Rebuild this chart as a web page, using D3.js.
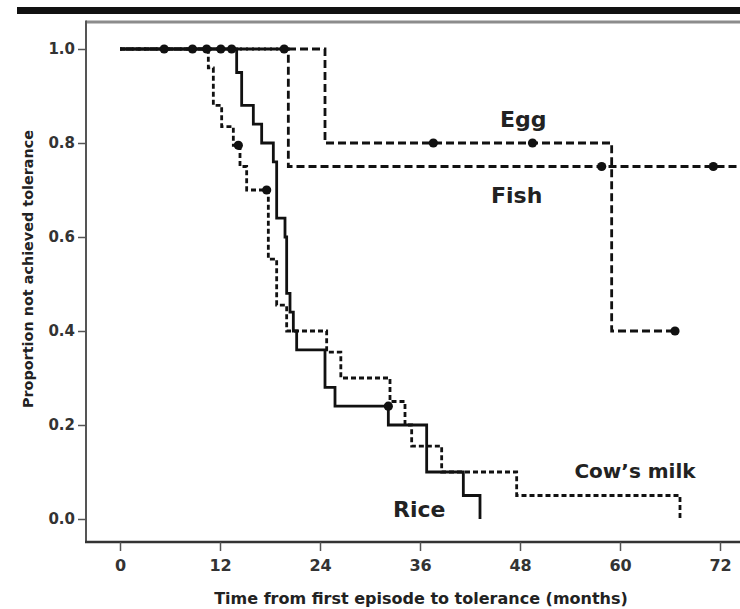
<!DOCTYPE html>
<html>
<head>
<meta charset="utf-8">
<script src="https://cdn.jsdelivr.net/npm/d3@7"></script>
<style>
  html, body { margin: 0; padding: 0; background: #fff; }
  svg { display: block; }
  text { font-family: "DejaVu Sans", "Liberation Sans", sans-serif; font-weight: bold; }
</style>
</head>
<body>
<svg id="chart" width="740" height="609"></svg>
<script>
// ---------------- data ----------------
const xTicks = [0, 12, 24, 36, 48, 60, 72];
const yTicks = [0.0, 0.2, 0.4, 0.6, 0.8, 1.0];

// Rice (solid line)
const riceTimes = [0, 14.0, 14.6, 16.0, 17.0, 18.4, 18.8, 19.8, 20.0, 20.4, 20.8, 21.2, 24.6, 25.8, 32.2, 36.8, 41.2, 43.2];
const riceSurv  = [1, 0.95, 0.88, 0.84, 0.80, 0.76, 0.64, 0.60, 0.48, 0.44, 0.40, 0.36, 0.28, 0.24, 0.20, 0.10, 0.05, 0];
const riceCensorTimes = [5.3, 10.4, 12.1, 13.4, 32.2];
const riceCensorSurv  = [1, 1, 1, 1, 0.24];

// Cow's milk (fine dashed line)
const milkTimes = [0, 10.6, 11.2, 12.2, 13.6, 14.4, 15.2, 17.8, 18.8, 20.0, 24.8, 26.5, 32.4, 34.2, 35.0, 38.6, 47.6, 67.2];
const milkSurv  = [1, 0.96, 0.88, 0.835, 0.795, 0.75, 0.70, 0.553, 0.455, 0.40, 0.355, 0.30, 0.25, 0.20, 0.155, 0.10, 0.05, 0];
const milkCensorTimes = [8.7, 14.2, 17.6];
const milkCensorSurv  = [1, 0.795, 0.70];

// Egg (dashed line)
const eggTimes = [0, 24.6, 59.0, 66.6];
const eggSurv  = [1, 0.80, 0.40, 0.40];
const eggCensorTimes = [19.7, 37.6, 49.5, 66.6];
const eggCensorSurv  = [1, 0.80, 0.80, 0.40];

// Fish (dashed line)
const fishTimes = [0, 20.2, 78];
const fishSurv  = [1, 0.75, 0.75];
const fishCensorTimes = [57.8, 71.2];
const fishCensorSurv  = [0.75, 0.75];

// Curve labels (anchored in data coordinates)
const labelNames = ["Egg", "Fish", "Cow\u2019s milk", "Rice"];
const labelTimes = [48.4, 47.6, 61.8, 35.9];
const labelSurv  = [0.835, 0.672, 0.087, 0.005];

const xTitle = "Time from first episode to tolerance (months)";
const yTitle = "Proportion not achieved tolerance";

// ---------------- layout ----------------
const W = 740, H = 609;
const frameLeft = 86, frameTop = 22, frameBottom = 542;

const svg = d3.select("#chart");

const x = d3.scaleLinear().domain([0, 72]).range([120, 720]);
const y = d3.scaleLinear().domain([0, 1]).range([519, 49]);

// top black bar
svg.append("rect").attr("x", 17).attr("y", 7).attr("width", W - 17).attr("height", 7).attr("fill", "#111");

// frame: top (light grey), left and bottom axes
svg.append("line").attr("x1", frameLeft).attr("x2", W).attr("y1", frameTop).attr("y2", frameTop)
  .attr("stroke", "#8c8c8c").attr("stroke-width", 3);
svg.append("line").attr("x1", frameLeft).attr("x2", frameLeft).attr("y1", frameTop - 1.5).attr("y2", frameBottom + 1)
  .attr("stroke", "#555").attr("stroke-width", 2);
svg.append("line").attr("x1", frameLeft - 1).attr("x2", W).attr("y1", frameBottom).attr("y2", frameBottom)
  .attr("stroke", "#333").attr("stroke-width", 2.5);

// y axis
const yAxis = svg.append("g").attr("transform", `translate(${frameLeft},0)`)
  .call(d3.axisLeft(y).tickValues(yTicks).tickFormat(d3.format(".1f")).tickSize(8).tickPadding(3));
yAxis.select(".domain").remove();
yAxis.selectAll(".tick line").attr("stroke", "#555").attr("stroke-width", 1.5);
yAxis.selectAll(".tick text").attr("font-size", 15).attr("fill", "#333")
  .attr("font-family", "DejaVu Sans").attr("font-weight", "bold");

// x axis
const xAxis = svg.append("g").attr("transform", `translate(0,${frameBottom})`)
  .call(d3.axisBottom(x).tickValues(xTicks).tickFormat(d3.format("d")).tickSize(9).tickPadding(9));
xAxis.select(".domain").remove();
xAxis.selectAll(".tick line").attr("stroke", "#555").attr("stroke-width", 1.5);
xAxis.selectAll(".tick text").attr("font-size", 16).attr("fill", "#333")
  .attr("font-family", "DejaVu Sans").attr("font-weight", "bold");

// axis titles
svg.append("text").attr("x", 421).attr("y", 604).attr("text-anchor", "middle")
  .attr("font-size", 16).attr("fill", "#222").text(xTitle);
svg.append("text").attr("transform", "translate(33,269) rotate(-90)").attr("text-anchor", "middle")
  .attr("font-size", 14.4).attr("fill", "#222").text(yTitle);

// ---------------- curves ----------------
const stepLine = d3.line().x(d => x(d[0])).y(d => y(d[1])).curve(d3.curveStepAfter);
const zip = (a, b) => a.map((v, i) => [v, b[i]]);

const series = [
  { t: eggTimes,  s: eggSurv,  ct: eggCensorTimes,  cs: eggCensorSurv,  dash: "8,4", off: 0 },
  { t: fishTimes, s: fishSurv, ct: fishCensorTimes, cs: fishCensorSurv, dash: "8,4", off: 6 },
  { t: milkTimes, s: milkSurv, ct: milkCensorTimes, cs: milkCensorSurv, dash: "5,3", off: 0 },
  { t: riceTimes, s: riceSurv, ct: riceCensorTimes, cs: riceCensorSurv, dash: null, off: 0 }
];

const plot = svg.append("g");
series.forEach(sr => {
  plot.append("path").attr("d", stepLine(zip(sr.t, sr.s)))
    .attr("fill", "none").attr("stroke", "#111").attr("stroke-width", 2.8)
    .attr("stroke-dasharray", sr.dash).attr("stroke-dashoffset", sr.off);
});
series.forEach(sr => {
  plot.selectAll(null).data(zip(sr.ct, sr.cs)).enter().append("circle")
    .attr("cx", d => x(d[0])).attr("cy", d => y(d[1])).attr("r", 4.6).attr("fill", "#111");
});

// labels
const labelSizes = [22, 22, 20, 22];
svg.selectAll(".lbl").data(labelNames).enter().append("text")
  .attr("class", "lbl")
  .attr("x", (d, i) => x(labelTimes[i])).attr("y", (d, i) => y(labelSurv[i]))
  .attr("text-anchor", "middle").attr("font-size", (d, i) => labelSizes[i]).attr("fill", "#222")
  .text(d => d);
</script>
</body>
</html>
